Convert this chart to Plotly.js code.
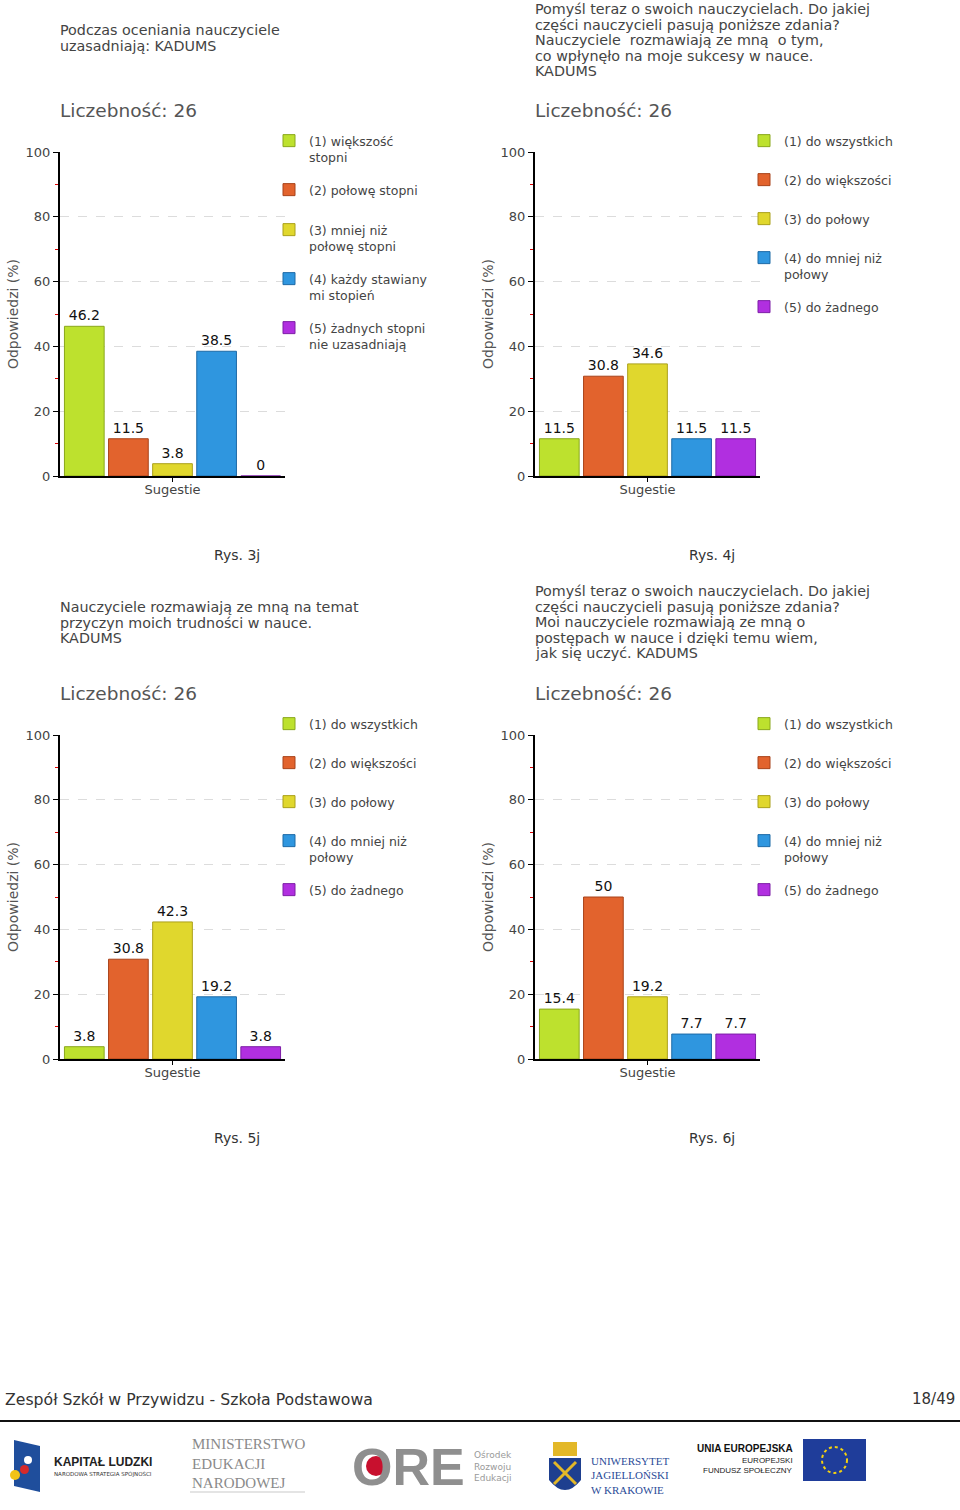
<!DOCTYPE html>
<html>
<head>
<meta charset="utf-8">
<script src="https://cdn.plot.ly/plotly-3.0.1.min.js"></script>
<style>html,body{margin:0;padding:0;background:#fff;}#chart{width:960px;height:1510px;}</style>
</head>
<body>
<div id="chart"></div>
<script>
// ---- data ----
const categories = ["Sugestie"];
const labels3j = ["(1) większość<br>stopni", "(2) połowę stopni", "(3) mniej niż<br>połowę stopni", "(4) każdy stawiany<br>mi stopień", "(5) żadnych stopni<br>nie uzasadniają"];
const labelsShare = ["(1) do wszystkich", "(2) do większości", "(3) do połowy", "(4) do mniej niż<br>połowy", "(5) do żadnego"];
const values3j = [46.2, 11.5, 3.8, 38.5, 0];
const values4j = [11.5, 30.8, 34.6, 11.5, 11.5];
const values5j = [3.8, 30.8, 42.3, 19.2, 3.8];
const values6j = [15.4, 50, 19.2, 7.7, 7.7];
const title3j = ["Podczas oceniania nauczyciele", "uzasadniają: KADUMS"];
const title4j = ["Pomyśl teraz o swoich nauczycielach. Do jakiej", "części nauczycieli pasują poniższe zdania?", "Nauczyciele  rozmawiają ze mną  o tym,", "co wpłynęło na moje sukcesy w nauce.", "KADUMS"];
const title5j = ["Nauczyciele rozmawiają ze mną na temat", "przyczyn moich trudności w nauce.", "KADUMS"];
const title6j = ["Pomyśl teraz o swoich nauczycielach. Do jakiej", "części nauczycieli pasują poniższe zdania?", "Moi nauczyciele rozmawiają ze mną o", "postępach w nauce i dzięki temu wiem,", "jak się uczyć. KADUMS"];
const countLabel = "Liczebność: 26";
const captions = ["Rys. 3j", "Rys. 4j", "Rys. 5j", "Rys. 6j"];
const yTitle = "Odpowiedzi (%)";

// ---- style ----
const FONT = "DejaVu Sans, Verdana, sans-serif";
const fills = ["#bde12e", "#e2632d", "#e0d72d", "#2f96df", "#b12fe0"];
const edges = ["#8aa71c", "#a8431a", "#aaa01a", "#1d6aa6", "#7d1ea6"];
const px = x => x / 960;
const py = y => 1 - y / 1510;
// legend item offsets (px) relative to plot top
const legOffsets3j = [-11, 38, 78, 127, 176];
const legOffsetsShare = [-11, 28, 67, 106, 155];

const charts = [
  {vals: values3j, names: labels3j, title: title3j, legOff: legOffsets3j, left: 60, top: 152, bottom: 476, titleY: 30, countY: 110, capY: 555},
  {vals: values4j, names: labelsShare, title: title4j, legOff: legOffsetsShare, left: 535, top: 152, bottom: 476, titleY: 9, countY: 110, capY: 555},
  {vals: values5j, names: labelsShare, title: title5j, legOff: legOffsetsShare, left: 60, top: 735, bottom: 1059, titleY: 607, countY: 693, capY: 1138},
  {vals: values6j, names: labelsShare, title: title6j, legOff: legOffsetsShare, left: 535, top: 735, bottom: 1059, titleY: 591, countY: 693, capY: 1138}
];

const data = [];
const layout = {
  width: 960, height: 1510,
  margin: {l: 0, r: 0, t: 0, b: 0},
  paper_bgcolor: "#fff", plot_bgcolor: "#fff",
  font: {family: FONT, color: "#444"},
  barmode: "group", bargap: 0.02, bargroupgap: 0.1,
  showlegend: true,
  annotations: [], shapes: []
};

let legCount = 0;
charts.forEach((c, k) => {
  const n = k === 0 ? "" : String(k + 1);
  const xName = "x" + n, yName = "y" + n;
  c.vals.forEach((v, i) => {
    legCount++;
    const legName = legCount === 1 ? "legend" : "legend" + legCount;
    data.push({
      type: "bar", x: categories, y: [v], name: c.names[i],
      xaxis: xName, yaxis: yName, legend: legName,
      marker: {color: fills[i], line: {color: edges[i], width: 1}},
      texttemplate: "%{y}", textposition: "outside", cliponaxis: false,
      textfont: {family: FONT, size: 14, color: "#111"},
      hoverinfo: "skip"
    });
    layout[legName] = {
      x: px(c.left + 209), y: py(c.top + c.legOff[i] - 15), xanchor: "left", yanchor: "top",
      bgcolor: "rgba(0,0,0,0)", font: {family: FONT, size: 12.5, color: "#444"},
      itemwidth: 30, valign: "top"
    };
  });
  layout["xaxis" + n] = {
    domain: [px(c.left), px(c.left + 225)], anchor: yName, type: "category",
    showline: true, linecolor: "#000", linewidth: 2, ticks: "outside", ticklen: 4, tickcolor: "#000",
    ticklabelstandoff: -4,
    tickfont: {family: FONT, size: 13, color: "#444"}, showgrid: false, fixedrange: true
  };
  layout["yaxis" + n] = {
    domain: [py(c.bottom), py(c.top)], anchor: xName, range: [0, 100], dtick: 20,
    showline: true, linecolor: "#000", linewidth: 2, ticks: "outside", ticklen: 5, tickcolor: "#000",
    showgrid: true, gridcolor: "#dcdcdc", griddash: "dash", gridwidth: 1, zeroline: false,
    minor: {dtick: 10, ticks: "outside", ticklen: 3, tickcolor: "#d00", showgrid: false},
    tickfont: {family: FONT, size: 13, color: "#444"},
    title: {text: yTitle, font: {family: FONT, size: 14, color: "#555"}, standoff: 4},
    fixedrange: true
  };
  c.title.forEach((line, j) => {
    layout.annotations.push({
      text: line, x: px(c.left - 2), y: py(c.titleY + j * 15.6), xref: "paper", yref: "paper",
      xanchor: "left", yanchor: "middle", align: "left", showarrow: false,
      font: {family: FONT, size: 14.3, color: "#444"}
    });
  });
  layout.annotations.push({
    text: countLabel, x: px(c.left - 2), y: py(c.countY), xref: "paper", yref: "paper",
    xanchor: "left", yanchor: "middle", showarrow: false,
    font: {family: FONT, size: 18.5, color: "#555"}
  });
  layout.annotations.push({
    text: captions[k], x: px(c.left + 177), y: py(c.capY), xref: "paper", yref: "paper",
    xanchor: "center", yanchor: "middle", showarrow: false,
    font: {family: FONT, size: 14, color: "#333"}
  });
});

// ---- footer ----
const ann = (text, x, y, size, color, extra) => layout.annotations.push(Object.assign({
  text, x: px(x), y: py(y), xref: "paper", yref: "paper", xanchor: "left", yanchor: "middle",
  showarrow: false, align: "left", font: {family: FONT, size, color}
}, extra || {}));
ann("Zespół Szkół w Przywidzu - Szkoła Podstawowa", 3, 1399, 15.7, "#333");
ann("18/49", 957, 1399, 15, "#333", {xanchor: "right"});
layout.shapes.push({type: "line", xref: "paper", yref: "paper", x0: 0, x1: 1, y0: py(1421), y1: py(1421), line: {color: "#111", width: 2}});

// logos (approximate)
const S = (o) => layout.shapes.push(Object.assign({xref: "paper", yref: "paper"}, o));
// Kapitał Ludzki flag
S({type: "path", path: `M ${px(14)} ${py(1440)} L ${px(40)} ${py(1446)} L ${px(40)} ${py(1492)} L ${px(14)} ${py(1486)} Z`, fillcolor: "#1f4e9c", line: {width: 0}});
S({type: "circle", x0: px(10), x1: px(20), y0: py(1480), y1: py(1470), fillcolor: "#f2c318", line: {width: 0}});
S({type: "circle", x0: px(20), x1: px(29), y0: py(1474), y1: py(1465), fillcolor: "#d62a2a", line: {width: 0}});
S({type: "circle", x0: px(24), x1: px(32), y0: py(1464), y1: py(1456), fillcolor: "#ffffff", line: {width: 0}});
ann("<b>KAPITAŁ LUDZKI</b>", 52, 1462, 11, "#222", {font: {family: "Liberation Sans Narrow, Liberation Sans, sans-serif", size: 12, color: "#222"}});
ann("NARODOWA STRATEGIA SPÓJNOŚCI", 52, 1474, 5.5, "#333");
// MEN
ann("MINISTERSTWO<br>EDUKACJI<br>NARODOWEJ", 190, 1463, 14, "#888", {font: {family: "Liberation Serif, serif", size: 15, color: "#8a8a8a"}});
S({type: "line", x0: px(190), x1: px(305), y0: py(1492), y1: py(1492), line: {color: "#c9c9c9", width: 1}});
// ORE
ann("<b>ORE</b>", 350, 1467, 50, "#8d8d8d", {font: {family: "Liberation Sans, sans-serif", size: 52, color: "#8f8f8f"}});
S({type: "circle", x0: px(366), x1: px(386), y0: py(1476), y1: py(1456), fillcolor: "#c8102e", line: {width: 0}});
ann("Ośrodek<br>Rozwoju<br>Edukacji", 472, 1466, 9, "#999", {font: {family: FONT, size: 9, color: "#9a9a9a"}});
// UJ
S({type: "path", path: `M ${px(549)} ${py(1458)} L ${px(581)} ${py(1458)} L ${px(581)} ${py(1480)} Q ${px(565)} ${py(1500)} ${px(549)} ${py(1480)} Z`, fillcolor: "#1e3f8f", line: {width: 0}});
S({type: "rect", x0: px(553), x1: px(577), y0: py(1456), y1: py(1442), fillcolor: "#e3b828", line: {width: 0}});
S({type: "line", x0: px(554), x1: px(576), y0: py(1462), y1: py(1484), line: {color: "#e3b828", width: 3}});
S({type: "line", x0: px(576), x1: px(554), y0: py(1462), y1: py(1484), line: {color: "#e3b828", width: 3}});
ann("UNIWERSYTET<br>JAGIELLOŃSKI<br>W KRAKOWIE", 589, 1475, 10, "#2a4b97", {font: {family: "Liberation Serif, serif", size: 11, color: "#2a4b97"}});
// EU
ann("<b>UNIA EUROPEJSKA</b>", 795, 1448, 9, "#111", {xanchor: "right", font: {family: "Liberation Sans Narrow, Liberation Sans, sans-serif", size: 10, color: "#111"}});
ann("EUROPEJSKI", 795, 1460, 8, "#222", {xanchor: "right", font: {family: "Liberation Sans Narrow, Liberation Sans, sans-serif", size: 8, color: "#222"}});
ann("FUNDUSZ SPOŁECZNY", 795, 1470, 8, "#222", {xanchor: "right", font: {family: "Liberation Sans Narrow, Liberation Sans, sans-serif", size: 8, color: "#222"}});
S({type: "rect", x0: px(803), x1: px(866), y0: py(1481), y1: py(1439), fillcolor: "#1f3d9a", line: {width: 0}});
S({type: "circle", x0: px(822), x1: px(847), y0: py(1473), y1: py(1447), line: {color: "#f5d20f", width: 2, dash: "dot"}});

Plotly.newPlot("chart", data, layout, {staticPlot: true, displayModeBar: false});
</script>
</body>
</html>
